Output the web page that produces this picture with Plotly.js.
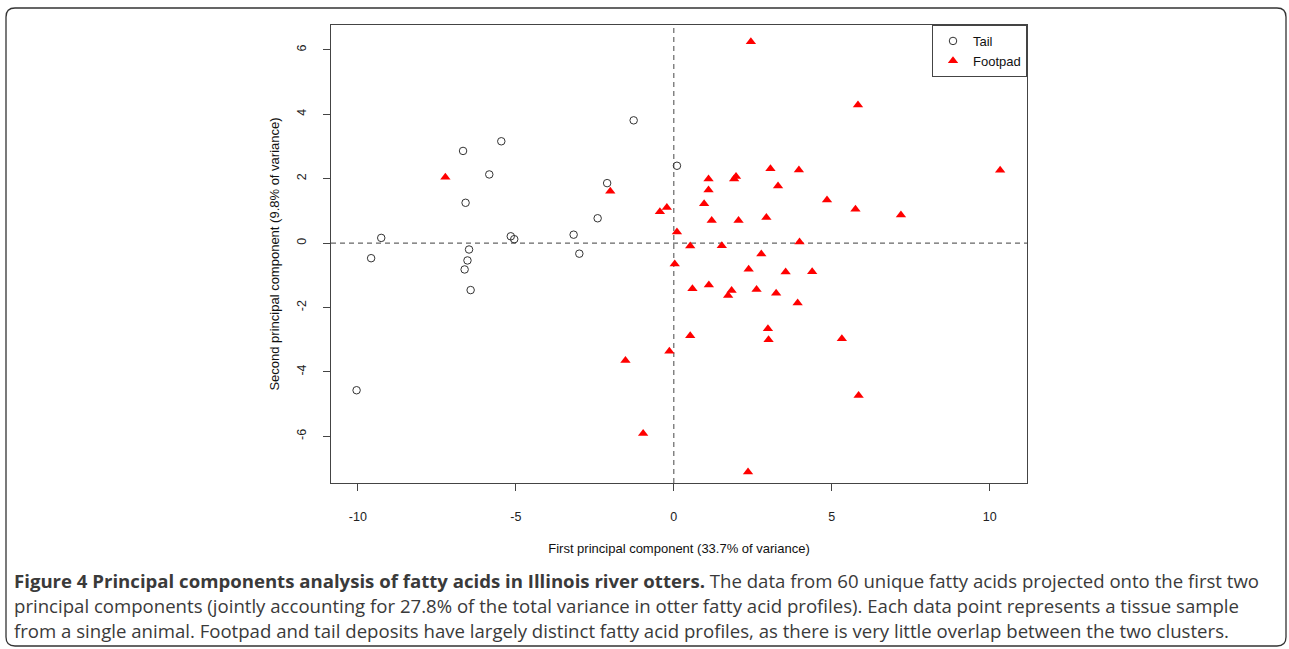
<!DOCTYPE html>
<html>
<head>
<meta charset="utf-8">
<script src="https://cdn.plot.ly/plotly-3.0.1.min.js"></script>
<style>
  html, body { margin: 0; padding: 0; background: #ffffff; }
  #chart { width: 1289px; height: 649px; }
</style>
</head>
<body>
<div id="chart"></div>
<script>
// ---- Data ----
var tailPC1 = [-1.27, -5.46, -6.67, -5.84, -2.11, -6.59, -2.41, -3.17, -9.26, -5.16, -5.05, 0.10, -9.58, -6.48, -2.99, -6.53, -6.62, -6.43, -10.04];
var tailPC2 = [3.81, 3.16, 2.86, 2.13, 1.86, 1.25, 0.77, 0.26, 0.16, 0.21, 0.12, 2.40, -0.47, -0.20, -0.33, -0.54, -0.82, -1.46, -4.57];

var footPC1 = [-7.23, -2.01, -0.44, -0.22, 0.10, 0.03, -0.14, -1.53, 2.44, 5.83, 3.06, 3.96, 1.10, 1.97, 1.91, 1.10, 3.30, 0.96, 4.85, 5.75, 1.20, 2.05, 2.93, 0.52, 1.52, 3.98, 2.77, 10.33, 7.19, 2.37, 3.54, 4.38, 0.59, 1.11, 1.83, 1.72, 2.62, 3.24, 3.92, 2.98, 3.00, 0.52, 5.32, 5.85, -0.97, 2.35];
var footPC2 = [2.04, 1.61, 0.97, 1.10, 0.34, -0.65, -3.36, -3.65, 6.25, 4.29, 2.31, 2.27, 1.99, 2.07, 1.99, 1.65, 1.77, 1.22, 1.34, 1.05, 0.70, 0.70, 0.79, -0.09, -0.08, 0.03, -0.34, 2.26, 0.87, -0.81, -0.90, -0.89, -1.42, -1.30, -1.47, -1.63, -1.44, -1.56, -1.86, -2.66, -3.00, -2.88, -2.97, -4.73, -5.91, -7.11];

var seriesNames = ["Tail", "Footpad"];
var xTickVals = [-10, -5, 0, 5, 10];
var yTickVals = [-6, -4, -2, 0, 2, 4, 6];
var xTitle = "First principal component (33.7% of variance)";
var yTitle = "Second principal component (9.8% of variance)";
var captionLines = [
  "<b>Figure 4 Principal components analysis of fatty acids in Illinois river otters.</b> The data from 60 unique fatty acids projected onto the first two",
  "principal components (jointly accounting for 27.8% of the total variance in otter fatty acid profiles). Each data point represents a tissue sample",
  "from a single animal. Footpad and tail deposits have largely distinct fatty acid profiles, as there is very little overlap between the two clusters."
];

// ---- Layout geometry ----
var FIG_W = 1289, FIG_H = 649;
var M = {l: 331, r: 262, t: 25, b: 166};
var PW = FIG_W - M.l - M.r, PH = FIG_H - M.t - M.b;
function px(xp) { return (xp - M.l) / PW; }
function py(yp) { return (FIG_H - M.b - yp) / PH; }

// rounded outer frame
var fL = 6, fT = 8, fR = 1286, fB = 646, rad = 9;
var framePath =
  'M ' + px(fL + rad) + ',' + py(fT) +
  ' L ' + px(fR - rad) + ',' + py(fT) +
  ' Q ' + px(fR) + ',' + py(fT) + ' ' + px(fR) + ',' + py(fT + rad) +
  ' L ' + px(fR) + ',' + py(fB - rad) +
  ' Q ' + px(fR) + ',' + py(fB) + ' ' + px(fR - rad) + ',' + py(fB) +
  ' L ' + px(fL + rad) + ',' + py(fB) +
  ' Q ' + px(fL) + ',' + py(fB) + ' ' + px(fL) + ',' + py(fB - rad) +
  ' L ' + px(fL) + ',' + py(fT + rad) +
  ' Q ' + px(fL) + ',' + py(fT) + ' ' + px(fL + rad) + ',' + py(fT) + ' Z';

var axisFont = {family: 'Liberation Sans, Arial, sans-serif', size: 12.5, color: '#222'};
var titleFont = {family: 'Liberation Sans, Arial, sans-serif', size: 13, color: '#111'};

var traces = [
  {
    x: tailPC1, y: tailPC2, name: seriesNames[0], type: 'scatter', mode: 'markers',
    marker: {symbol: 'circle-open', size: 7.5, color: '#333', line: {width: 1, color: '#333'}}
  },
  {
    x: footPC1, y: footPC2, name: seriesNames[1], type: 'scatter', mode: 'markers',
    marker: {symbol: 'triangle-up', size: 9, color: '#ff0000', line: {width: 0}}
  }
];

var captionY = [580, 605, 630];
var annotations = captionLines.map(function (t, i) {
  return {
    text: t, xref: 'paper', yref: 'paper', x: px(12), y: py(captionY[i]),
    xanchor: 'left', yanchor: 'middle', showarrow: false, align: 'left',
    font: {family: 'Open Sans, Noto Sans, sans-serif', size: 18.6, color: '#3a3a3a'}
  };
});

var layout = {
  width: FIG_W, height: FIG_H,
  margin: M,
  paper_bgcolor: '#ffffff', plot_bgcolor: '#ffffff',
  showlegend: true,
  xaxis: {
    range: [-10.85, 11.18], tickvals: xTickVals, ticktext: xTickVals.map(String),
    ticks: 'outside', ticklen: 7, tickwidth: 1, tickcolor: '#444',
    showline: true, linecolor: '#444', linewidth: 1, mirror: true,
    showgrid: false, zeroline: false, tickfont: axisFont, ticklabelstandoff: 15,
    title: {text: xTitle, font: titleFont, standoff: 20}
  },
  yaxis: {
    range: [-7.45, 6.77], tickvals: yTickVals, ticktext: yTickVals.map(String),
    ticks: 'outside', ticklen: 7, tickwidth: 1, tickcolor: '#444', tickangle: -90,
    showline: true, linecolor: '#444', linewidth: 1, mirror: true,
    showgrid: false, zeroline: false, tickfont: axisFont, ticklabelstandoff: 12,
    title: {text: yTitle, font: titleFont, standoff: 12}
  },
  legend: {
    x: 1, xanchor: 'right', y: 1, yanchor: 'top',
    bgcolor: '#ffffff', bordercolor: '#444', borderwidth: 1,
    font: {family: 'Liberation Sans, Arial, sans-serif', size: 13, color: '#111'},
    tracegroupgap: 0, itemwidth: 30, entrywidth: 85, entrywidthmode: 'pixels'
  },
  shapes: [
    {type: 'line', xref: 'x', yref: 'paper', x0: 0, x1: 0, y0: 0, y1: 1,
     line: {color: '#666', width: 1.2, dash: '5px,4px'}, layer: 'below'},
    {type: 'line', xref: 'paper', yref: 'y', x0: 0, x1: 1, y0: 0, y1: 0,
     line: {color: '#666', width: 1.2, dash: '5px,4px'}, layer: 'below'},
    {type: 'path', xref: 'paper', yref: 'paper', path: framePath,
     line: {color: '#333', width: 1.3}, fillcolor: 'rgba(0,0,0,0)'}
  ],
  annotations: annotations
};

Plotly.newPlot('chart', traces, layout, {displayModeBar: false, staticPlot: true});
</script>
</body>
</html>
